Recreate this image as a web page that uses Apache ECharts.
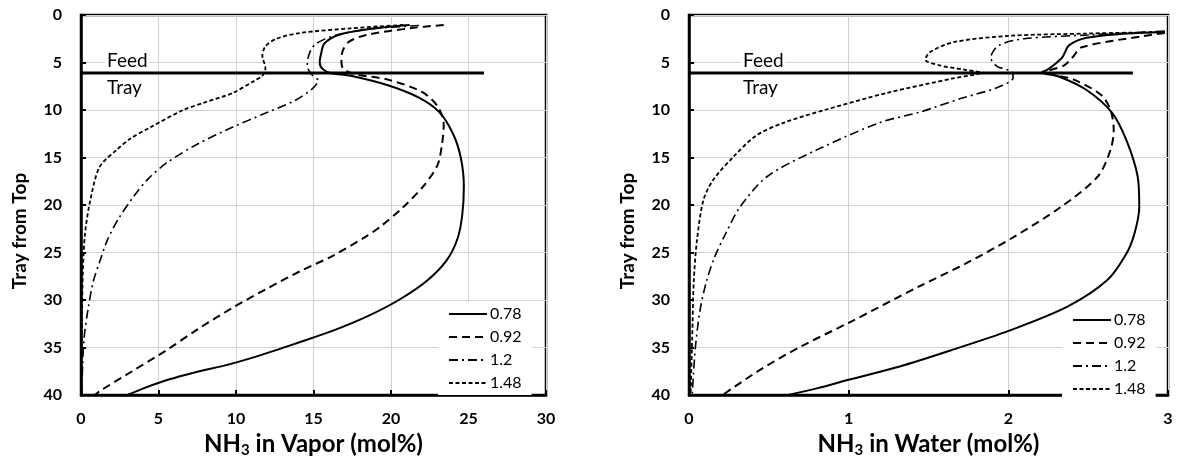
<!DOCTYPE html>
<html>
<head>
    <meta charset="utf-8">
    <title>NH3 tray profiles</title>
    <style>
        html, body { margin: 0; padding: 0; background: #fff; }
        #main { width: 1180px; height: 465px; }
    </style>
</head>
<body>
    <div id="main"></div>
    <script src="https://cdn.jsdelivr.net/npm/echarts@6/dist/echarts.min.js"></script>
    <script>
        // legend names (ratio)
        var names = ['0.78', '0.92', '1.2', '1.48'];

        // feed tray position
        var feedTray = 6.1;
        var feedVapor = [[0, feedTray], [26, feedTray]];
        var feedWater = [[0, feedTray], [2.78, feedTray]];

        // NH3 in vapor (mol%) vs tray from top
        var vapor078 = [[21.2,1.05],[18.5,1.5],[16.6,2.1],[15.7,3],[15.5,4],[15.4,5],[15.6,5.7],[16.1,6.1],[17.4,6.4],[19.8,7.4],[21.8,8.7],[23.1,10.2],[24,12.5],[24.5,15],[24.7,18],[24.6,21],[24.3,23.5],[23.6,25.8],[22.3,28],[20.5,30],[18.5,31.7],[16.3,33.2],[14,34.5],[11.6,35.8],[9.5,36.8],[7.4,37.6],[5.6,38.4],[4.2,39.2],[3,40]];
        var vapor092 = [[23.4,1.05],[21.2,1.4],[18.4,2.1],[17.3,2.8],[16.9,3.7],[16.8,4.8],[16.9,5.6],[17.6,6.2],[19.8,6.8],[22,8.1],[23,9.6],[23.4,11.5],[23.3,13.5],[23,15.8],[22.1,18],[20.8,20.2],[19.3,22.3],[18.4,23.3],[16.3,25.3],[14.1,27],[12,28.8],[9.8,30.8],[7.6,33],[5.5,35.3],[3.3,37.5],[1.2,39.6],[0.9,40]];
        var vapor120 = [[21.8,1.1],[18.5,1.5],[16.3,2.2],[15.1,3.1],[14.7,4.2],[14.6,5.4],[14.9,6.3],[15.3,6.9],[14.9,7.8],[13.8,9],[11.8,10.4],[9.8,11.8],[7.5,13.6],[5.5,15.6],[4.3,17.3],[3.4,19.1],[2.4,21.5],[1.7,23.7],[1.2,26],[0.8,28],[0.45,31],[0.2,34],[0.1,37],[0.05,40]];
        var vapor148 = [[20.8,1.05],[17.4,1.4],[14.1,1.9],[12.6,2.5],[11.9,3.3],[11.7,4.3],[11.9,5.6],[11.7,6.4],[11.2,6.9],[9.8,8.2],[8,9.2],[6.6,10],[4.5,11.8],[3.2,13],[2.3,14.2],[1.2,16],[0.6,19.5],[0.26,23],[0.12,27],[0.06,32],[0.03,36],[0.02,40]];

        // NH3 in water (mol%) vs tray from top
        var water078 = [[2.98,1.8],[2.7,2],[2.49,2.4],[2.38,3.2],[2.34,4.4],[2.29,5.2],[2.24,5.8],[2.21,6.05],[2.32,6.5],[2.49,7.9],[2.65,10.3],[2.74,13.2],[2.81,17],[2.82,20.2],[2.79,23],[2.74,25.1],[2.62,27.9],[2.37,30.7],[2.01,33.2],[1.64,35.3],[1.32,37],[1.0,38.4],[0.8,39.3],[0.62,40]];
        var water092 = [[2.98,1.9],[2.85,2.2],[2.46,3.4],[2.4,4.5],[2.35,5.3],[2.24,6.0],[2.41,6.8],[2.58,8.4],[2.64,10],[2.66,12.1],[2.64,14.2],[2.56,17],[2.33,20.2],[2.03,23.4],[1.74,26.1],[1.45,28.5],[1.0,32.4],[0.7,34.9],[0.45,37.3],[0.21,40]];
        var water120 = [[2.98,1.7],[2.5,2.1],[2.1,2.5],[1.94,3.2],[1.89,4.5],[1.93,5.4],[2.02,5.95],[2.03,6.6],[1.92,7.7],[1.7,8.8],[1.45,10.2],[1.2,11.3],[0.8,14.2],[0.49,17],[0.32,20.2],[0.23,23],[0.16,25.5],[0.11,28],[0.07,31],[0.04,35],[0.02,40]];
        var water148 = [[2.98,1.8],[2.5,1.95],[2.0,2.2],[1.66,2.85],[1.51,3.9],[1.48,4.7],[1.57,5.3],[1.74,5.8],[1.83,6.07],[1.66,6.65],[1.24,8.2],[0.85,10],[0.6,11.3],[0.42,12.7],[0.28,14.9],[0.15,17.4],[0.09,19.5],[0.05,23.7],[0.03,28],[0.02,34],[0.01,40]];

        // tick settings
        var trayMin = 0, trayMax = 40, trayStep = 5;
        var vaporMax = 30, vaporStep = 5;
        var waterMax = 3, waterStep = 1;

        var font = 'Lato, "Open Sans", sans-serif';
        var dashTypes = ['solid', [8, 5], [9, 4, 2, 4], [4, 2.5]];
        var widths = [2, 2, 1.6, 1.8];

        function xAxisOf(gridIndex, max, step, label) {
            return {
                type: 'value', gridIndex: gridIndex, min: 0, max: max, interval: step,
                name: label, nameLocation: 'middle', nameGap: 32,
                nameTextStyle: {
                    fontFamily: font, fontWeight: 'bold', fontSize: 24, color: '#000',
                    rich: {
                        b: { fontFamily: font, fontWeight: 'bold', fontSize: 24, color: '#000', lineHeight: 28 },
                        s: { fontFamily: font, fontWeight: 'bold', fontSize: 15, color: '#000', verticalAlign: 'bottom', lineHeight: 28 }
                    }
                },
                axisLine: { onZero: false, lineStyle: { color: '#000', width: 2.5 } },
                axisTick: { inside: true, length: 5, lineStyle: { color: '#000', width: 2 } },
                axisLabel: { margin: 16, fontFamily: font, fontWeight: 'bold', fontSize: 16, color: '#000' },
                splitLine: { lineStyle: { color: '#d3d3d3', width: 1 } }
            };
        }

        function yAxisOf(gridIndex) {
            return {
                type: 'value', gridIndex: gridIndex, min: trayMin, max: trayMax, interval: trayStep,
                inverse: true,
                name: 'Tray from Top', nameLocation: 'middle', nameGap: 52,
                nameTextStyle: { fontFamily: font, fontWeight: 'bold', fontSize: 19, color: '#000', padding: [0, 52, 0, 0] },
                axisLine: { onZero: false, lineStyle: { color: '#000', width: 2.5 } },
                axisTick: { inside: true, length: 5, lineStyle: { color: '#000', width: 2 } },
                axisLabel: { margin: 19, fontFamily: font, fontWeight: 'bold', fontSize: 16, color: '#000' },
                splitLine: { lineStyle: { color: '#d3d3d3', width: 1 } }
            };
        }

        function curve(name, data, idx, axisIdx) {
            return {
                name: name, type: 'line', data: data,
                xAxisIndex: axisIdx, yAxisIndex: axisIdx,
                showSymbol: false, symbol: 'none', smooth: 0.3, z: 4,
                color: '#000',
                lineStyle: { color: '#000', width: widths[idx], type: dashTypes[idx] }
            };
        }

        function feedLine(data, axisIdx) {
            return {
                name: 'Feed Tray', type: 'line', data: data,
                xAxisIndex: axisIdx, yAxisIndex: axisIdx,
                symbol: 'none', silent: true, z: 4,
                lineStyle: { color: '#000', width: 3 }
            };
        }

        function legendOf(left, top) {
            return {
                data: names, orient: 'vertical', left: left, top: top, z: 3,
                itemWidth: 38, itemHeight: 14, itemGap: 7,
                itemStyle: { opacity: 0 },
                padding: [4, 10, 4, 10], backgroundColor: '#fff',
                selectedMode: false,
                textStyle: { fontFamily: font, fontSize: 16, color: '#000', padding: [0, 0, 0, -2] }
            };
        }

        var labelStyle = { fontFamily: font, fontSize: 19, fill: '#000', backgroundColor: '#fff', padding: [0, 2] };

        var myChart = echarts.init(document.getElementById('main'), null, { renderer: 'canvas' });
        var option = {
            animation: false,
            backgroundColor: '#fff',
            grid: [
                { left: 81, top: 15, width: 465, height: 380, show: true, borderColor: '#000', borderWidth: 2.5 },
                { left: 689, top: 15, width: 479, height: 380, show: true, borderColor: '#000', borderWidth: 2.5 }
            ],
            xAxis: [
                xAxisOf(0, vaporMax, vaporStep, '{b|NH}{s|3}{b| in Vapor (mol%)}'),
                xAxisOf(1, waterMax, waterStep, '{b|NH}{s|3}{b| in Water (mol%)}')
            ],
            yAxis: [yAxisOf(0), yAxisOf(1)],
            legend: [legendOf(438, 302), legendOf(1062, 308)],
            graphic: [
                { type: 'text', left: 105, top: 51, z: 3, style: Object.assign({ text: 'Feed' }, labelStyle) },
                { type: 'text', left: 105, top: 78, z: 3, style: Object.assign({ text: 'Tray' }, labelStyle) },
                { type: 'text', left: 741, top: 51, z: 3, style: Object.assign({ text: 'Feed' }, labelStyle) },
                { type: 'text', left: 741, top: 78, z: 3, style: Object.assign({ text: 'Tray' }, labelStyle) }
            ],
            series: [
                feedLine(feedVapor, 0),
                curve(names[0], vapor078, 0, 0),
                curve(names[1], vapor092, 1, 0),
                curve(names[2], vapor120, 2, 0),
                curve(names[3], vapor148, 3, 0),
                feedLine(feedWater, 1),
                curve(names[0], water078, 0, 1),
                curve(names[1], water092, 1, 1),
                curve(names[2], water120, 2, 1),
                curve(names[3], water148, 3, 1)
            ]
        };
        myChart.setOption(option);
    </script>
</body>
</html>
